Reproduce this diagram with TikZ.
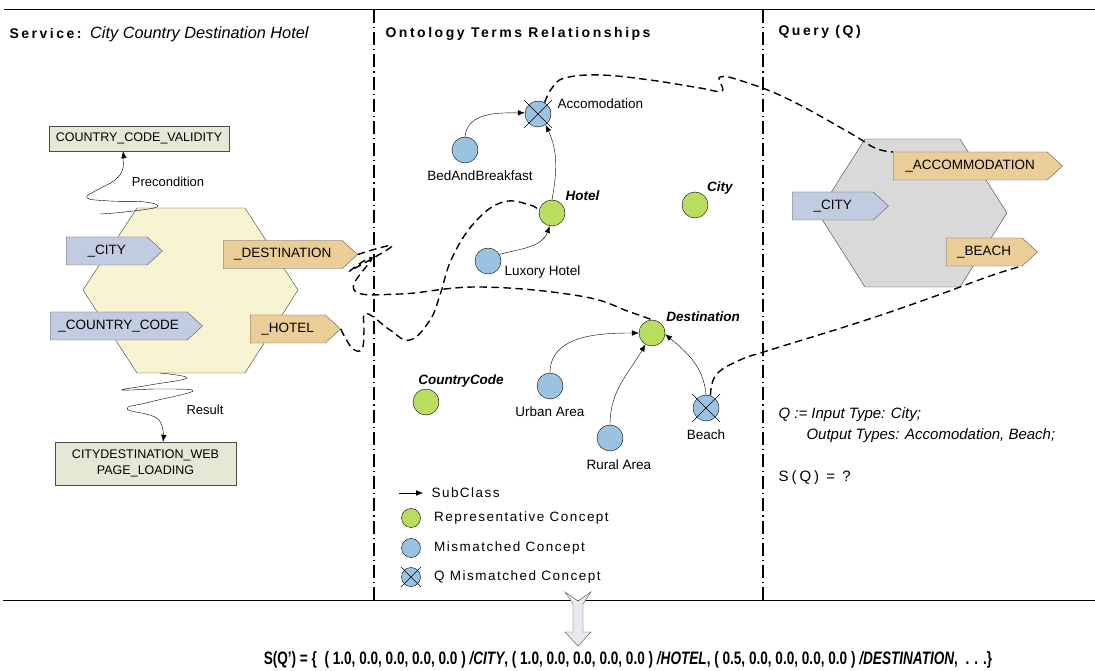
\documentclass[tikz,border=0pt]{standalone}
\usepackage{fontspec}
\usepackage{graphicx}
\setmainfont{Liberation Sans}
\newfontfamily\headfont[LetterSpace=18]{Liberation Sans}
\newfontfamily\legendfont[LetterSpace=11]{Liberation Sans}
\newfontfamily\sqfont[LetterSpace=20]{Liberation Sans}
\usetikzlibrary{shapes.symbols, positioning, arrows.meta}
\definecolor{repgreen}{HTML}{B9DD5F}
\definecolor{misblue}{HTML}{9AC3E2}
\definecolor{tagblue}{HTML}{C2CCE1}
\definecolor{tagtan}{HTML}{EBCD98}
\definecolor{svcfill}{HTML}{F8F4D1}
\definecolor{qryfill}{HTML}{D9D9D9}
\definecolor{boxfill}{HTML}{E6E8D6}
\definecolor{arrowfill}{HTML}{E6E9EE}
\tikzset{concept/.style={circle,draw,minimum size=26pt,inner sep=0pt},
         repconcept/.style={concept,fill=repgreen},
         misconcept/.style={concept,fill=misblue},
         every label/.style={font=\fontsize{13.5}{16}\selectfont},
         intag/.style={signal,signal to=east,signal pointer angle=85,draw=black!65,fill=tagblue,
                       minimum height=28pt,inner xsep=0pt,inner ysep=0pt,text width=#1,align=center,
                       anchor=west,font=\fontsize{13.5}{16}\selectfont},
         outtag/.style={intag=#1,fill=tagtan},
         condbox/.style={draw=black!70,fill=boxfill,inner sep=0pt,align=center,font=\fontsize{12.5}{16}\selectfont},
         header/.style={anchor=west,font=\fontsize{14}{17}\selectfont\headfont\bfseries},
         subclass/.style={-{Latex[length=7pt,width=5.5pt]},thin},
         link/.style={line width=1.4pt,dash pattern=on 7.5pt off 4.5pt},
         divider/.style={line width=1.2pt,dash pattern=on 13pt off 4pt on 1.2pt off 4pt}}
\newcommand{\qcross}[2]{\draw (#1.center) +(-#2,-#2) -- +(#2,#2) (#1.center) +(-#2,#2) -- +(#2,-#2);}

\begin{document}
\begin{tikzpicture}[x=1pt,y=1pt]
    \useasboundingbox (0,0) rectangle (1095,670);
    \draw[line width=1pt] (4,660) -- (1095,660);
    \draw[line width=1pt] (3,70) -- (1095,70);
    \draw[divider] (374,660) -- (374,70);
    \draw[divider] (763,660) -- (763,70);

    \node[header] (svctitle) at (6,636) {Service: {\fontsize{16.3}{19}\selectfont\mdseries\itshape\rmfamily City Country Destination Hotel}};
    \node[header] (onttitle) at (382,636) {Ontology Terms Relationships};
    \node[header] (qrytitle) at (775,638) {Query (Q)};

    \filldraw[fill=svcfill,draw=black!75] (137,462) -- (245,462) -- (298,380) -- (245,297) -- (137,297) -- (83,380) -- cycle;
    \node[intag=81pt] (scity) at (66,419) {\_CITY};
    \node[outtag=119pt] (sdest) at (223,415.5) {\_DESTINATION};
    \node[intag=137pt] (scc) at (50,344) {\_COUNTRY\_CODE};
    \node[outtag=75pt] (shotel) at (250,341) {\_HOTEL};
    \node[condbox,minimum width=180pt,minimum height=25pt] (ccv) at (139,531.5) {COUNTRY\_CODE\_VALIDITY};
    \node[condbox,minimum width=181pt,minimum height=43pt] (cdw) at (145.5,206.5) {CITYDESTINATION\_WEB\\PAGE\_LOADING};
    \node[font=\fontsize{13}{16}\selectfont] (precond) at (168,488) {Precondition};
    \node[font=\fontsize{13}{16}\selectfont] (result) at (205,260) {Result};
    \coordinate (pcstart) at (100,456);
    \coordinate (rsstart) at (160,297);
    \draw[subclass] plot[smooth,tension=0.7] coordinates {(pcstart) (125,458) (157,463) (145,468) (110,469) (87,472) (97,480) (115,490) (123,502) ([xshift=-16pt]ccv.south)};
    \draw[subclass] plot[smooth,tension=0.7] coordinates {(rsstart) (187,292) (150,285) (122,280) (160,281) (193,279) (150,268) (127,261) (158,251) ([xshift=17.5pt]cdw.north)};

    \node[misconcept,label={[label distance=3pt]5:Accomodation}] (acc) at (538,556) {};
    \node[misconcept,label={[xshift=15pt,label distance=4pt]below:BedAndBreakfast}] (bnb) at (465,520) {};
    \node[repconcept,label={40:\textbf{\textit{Hotel}}}] (hotel) at (552,457) {};
    \node[repconcept,label={[label distance=-2pt]40:\textbf{\textit{City}}}] (city) at (695,465) {};
    \node[misconcept,label={-5:Luxory Hotel}] (lux) at (488,409) {};
    \node[repconcept,label={35:\textbf{\textit{Destination}}}] (dest) at (652,337) {};
    \node[repconcept,label={[xshift=35pt,label distance=-2pt]above:\textbf{\textit{CountryCode}}}] (cc) at (426,268) {};
    \node[misconcept,label={[label distance=4pt]below:Urban Area}] (urban) at (550,284) {};
    \node[misconcept,label={[xshift=9pt,label distance=5pt]below:Rural Area}] (rural) at (610,232) {};
    \node[misconcept,label={[label distance=5pt]below:Beach}] (beach) at (706,262) {};
    \qcross{acc}{14}
    \qcross{beach}{14}

    \draw[subclass] (bnb.north) to[out=85,in=180] (acc.175);
    \draw[subclass] (hotel.north) to[out=80,in=-65] (acc.-55);
    \draw[subclass] (lux.30) to[out=15,in=-110] (hotel.-100);
    \draw[subclass] (urban.north) to[out=90,in=180] (dest.west);
    \draw[subclass] (rural.north) to[out=90,in=-120] (dest.-120);
    \draw[subclass] (beach.north) to[out=95,in=-40] (dest.-5);

    \filldraw[fill=qryfill,draw=black!75] (865,531) -- (960,531) -- (1007,457) -- (960,383) -- (865,383) -- (818,457) -- cycle;
    \node[outtag=154pt] (qacc) at (893,504) {\_ACCOMMODATION};
    \node[intag=81pt] (qcity) at (792,464) {\_CITY};
    \node[outtag=76pt] (qbeach) at (946,418) {\_BEACH};

    \draw[link] plot[smooth,tension=0.7] coordinates {(acc.60) (552,582) (565,592) (600,595) (650,590) (700,582) (722,579) (720,593) (745,588) (790,570) (850,537) (875,522) ([yshift=14pt]qacc.west)};
    \draw[link] plot[smooth,tension=0.7] coordinates {(shotel.east) (352,322) (362,321) (364,340) (364,355) (372,354) (390,340) (410,330) (430,350) (440,375) (452,412) (475,448) (503,468) (530,465) (hotel.170)};
    \draw[link] plot[smooth,tension=0.7] coordinates {(sdest.east) (392,424) (350,399) (372,412) (354,380) (400,376) (480,383) (580,374) (630,358) (dest.north)};
    \draw[link] plot[smooth,tension=0.7] coordinates {(beach.70) (716,295) (740,310) (770,320) (860,348) (930,372) (990,394) ([xshift=76pt,yshift=-14pt]qbeach.west)};

    \node[anchor=west,font=\fontsize{15}{18}\selectfont\itshape] (qline1) at (775,255) {Q := Input Type: City;};
    \node[anchor=west,font=\fontsize{15}{18}\selectfont\itshape] (qline2) at (803,234) {Output Types: Accomodation, Beach;};
    \node[anchor=west,font=\fontsize{15}{18}\selectfont] (sq) at (775,192) {\sqfont S(Q) = ?};

    \coordinate (lga) at (399,177);
    \coordinate (lgb) at (423,177);
    \draw[subclass] (lga) -- (lgb);
    \node[anchor=west,font=\fontsize{13.5}{16}\selectfont] (lgsub) at (428,177) {\legendfont SubClass};
    \node[repconcept,minimum size=19pt,label={[label distance=10pt]right:{\legendfont Representative Concept}}] (lgrep) at (411,152) {};
    \node[misconcept,minimum size=19pt,label={[label distance=10pt]right:{\legendfont Mismatched Concept}}] (lgmis) at (411,122) {};
    \node[misconcept,minimum size=19pt,label={[label distance=10pt]right:{\legendfont Q Mismatched Concept}}] (lgq) at (411,93) {};
    \qcross{lgq}{10}

    \filldraw[fill=arrowfill,draw=black!70] (565,78) -- (578,69) -- (591,78) -- (583,66) -- (583,38) -- (591,38) -- (578,24) -- (565,38) -- (573,38) -- (573,66) -- cycle;
    \node[font=\fontsize{18}{21}\selectfont\bfseries] (sqprime) at (628,10) {\scalebox{0.755}[1]{S(Q’) = \{ ~( 1.0, 0.0, 0.0, 0.0, 0.0 ) \textit{/CITY}, ( 1.0, 0.0, 0.0, 0.0, 0.0 ) \textit{/HOTEL}, ( 0.5, 0.0, 0.0, 0.0, 0.0 ) \textit{/DESTINATION}, ~. . .\}}};
\end{tikzpicture}
\end{document}
